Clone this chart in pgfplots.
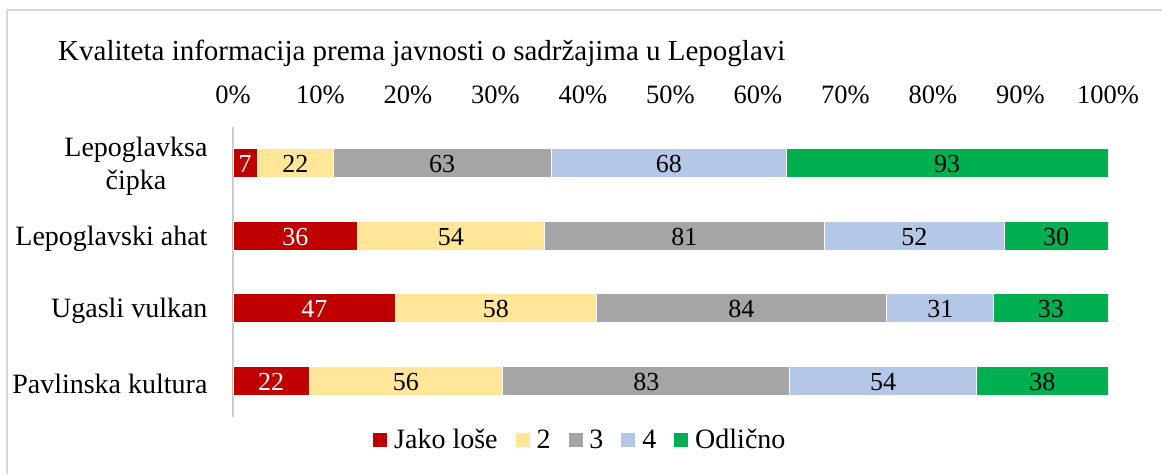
\documentclass[border=0pt]{standalone}
\usepackage{pgfplots}
\pgfplotsset{compat=1.18}
\usepackage{pgfplotstable}
\usepackage{fontspec}
\setmainfont{Liberation Serif}
\definecolor{cred}{HTML}{C00000}
\definecolor{cyel}{HTML}{FFE699}
\definecolor{cgray}{HTML}{A5A5A5}
\definecolor{cblue}{HTML}{B4C7E7}
\definecolor{cgreen}{HTML}{00B050}
\pgfplotstableread{
y a b c d e
3 7 22 63 68 93
2 36 54 81 52 30
1 47 58 84 31 33
0 22 56 83 54 38
}\data
\begin{document}
\begin{tikzpicture}[x=1pt,y=1pt,font=\fontsize{26.5}{32}\selectfont]
\useasboundingbox (0,0) rectangle (1162,474);
\draw[black!15, line width=1.2pt] (7,0) -- (7,464) -- (1162,464);
\node[anchor=base west, inner sep=0pt, font=\fontsize{29}{35}\selectfont] at (58,413) {Kvaliteta informacija prema javnosti o sadržajima u Lepoglavi};
\pgfplotsset{base/.style={
  at={(233pt,57pt)}, anchor=south west, scale only axis,
  width=875pt, height=290pt,
  xmin=0, xmax=253, ymin=-0.5, ymax=3.5,
},
lbl/.style={only marks, mark=none, nodes near coords,
    point meta=explicit symbolic,
    nodes near coords style={anchor=center, inner sep=0pt, yshift=-1pt, text=black, font=\fontsize{26}{31}\selectfont}}
}
\begin{axis}[base,
  xbar stacked, bar width=29pt,
  axis x line=none,
  axis y line*=left,
  y axis line style={black!20, line width=1.2pt},
  ytick={0,1,2,3}, major tick length=0pt,
  yticklabels={Pavlinska kultura, Ugasli vulkan, Lepoglavski ahat, {Lepoglavksa\\čipka}},
  yticklabel style={align=center, font=\fontsize{28}{33}\selectfont, xshift=-22pt, yshift=-3pt},
  every axis plot/.append style={draw=white, line width=0.8pt},
  legend style={at={(axis description cs:0.397,-0.079)}, anchor=center, draw=none, fill=none,
    legend columns=5, font=\fontsize{28}{33}\selectfont,
    /tikz/every even column/.append style={column sep=16pt}},
  legend image code/.code={\fill[#1,draw=none] (0pt,-7pt) rectangle (14pt,7pt); \path (18.5pt,0pt);},
]
\addplot[fill=cred] table[x=a,y=y]{\data};
\addplot[fill=cyel] table[x=b,y=y]{\data};
\addplot[fill=cgray] table[x=c,y=y]{\data};
\addplot[fill=cblue] table[x=d,y=y]{\data};
\addplot[fill=cgreen] table[x=e,y=y]{\data};
\legend{Jako loše,2,3,4,Odlično}
\end{axis}
\begin{axis}[base,
  axis y line=none,
  axis x line*=top, x axis line style={draw=none},
  xtick={0,25.3,...,253}, major tick length=0pt,
  xticklabels={0\%,10\%,20\%,30\%,40\%,50\%,60\%,70\%,80\%,90\%,100\%},
  xticklabel style={anchor=base, yshift=23pt, inner sep=0pt},
]
\addplot[lbl, nodes near coords style={text=white}] table[x expr=\thisrow{a}/2, y=y, meta=a]{\data};
\addplot[lbl] table[x expr=\thisrow{a}+\thisrow{b}/2, y=y, meta=b]{\data};
\addplot[lbl] table[x expr=\thisrow{a}+\thisrow{b}+\thisrow{c}/2, y=y, meta=c]{\data};
\addplot[lbl] table[x expr=\thisrow{a}+\thisrow{b}+\thisrow{c}+\thisrow{d}/2, y=y, meta=d]{\data};
\addplot[lbl] table[x expr=\thisrow{a}+\thisrow{b}+\thisrow{c}+\thisrow{d}+\thisrow{e}/2, y=y, meta=e]{\data};
\end{axis}
\end{tikzpicture}
\end{document}
